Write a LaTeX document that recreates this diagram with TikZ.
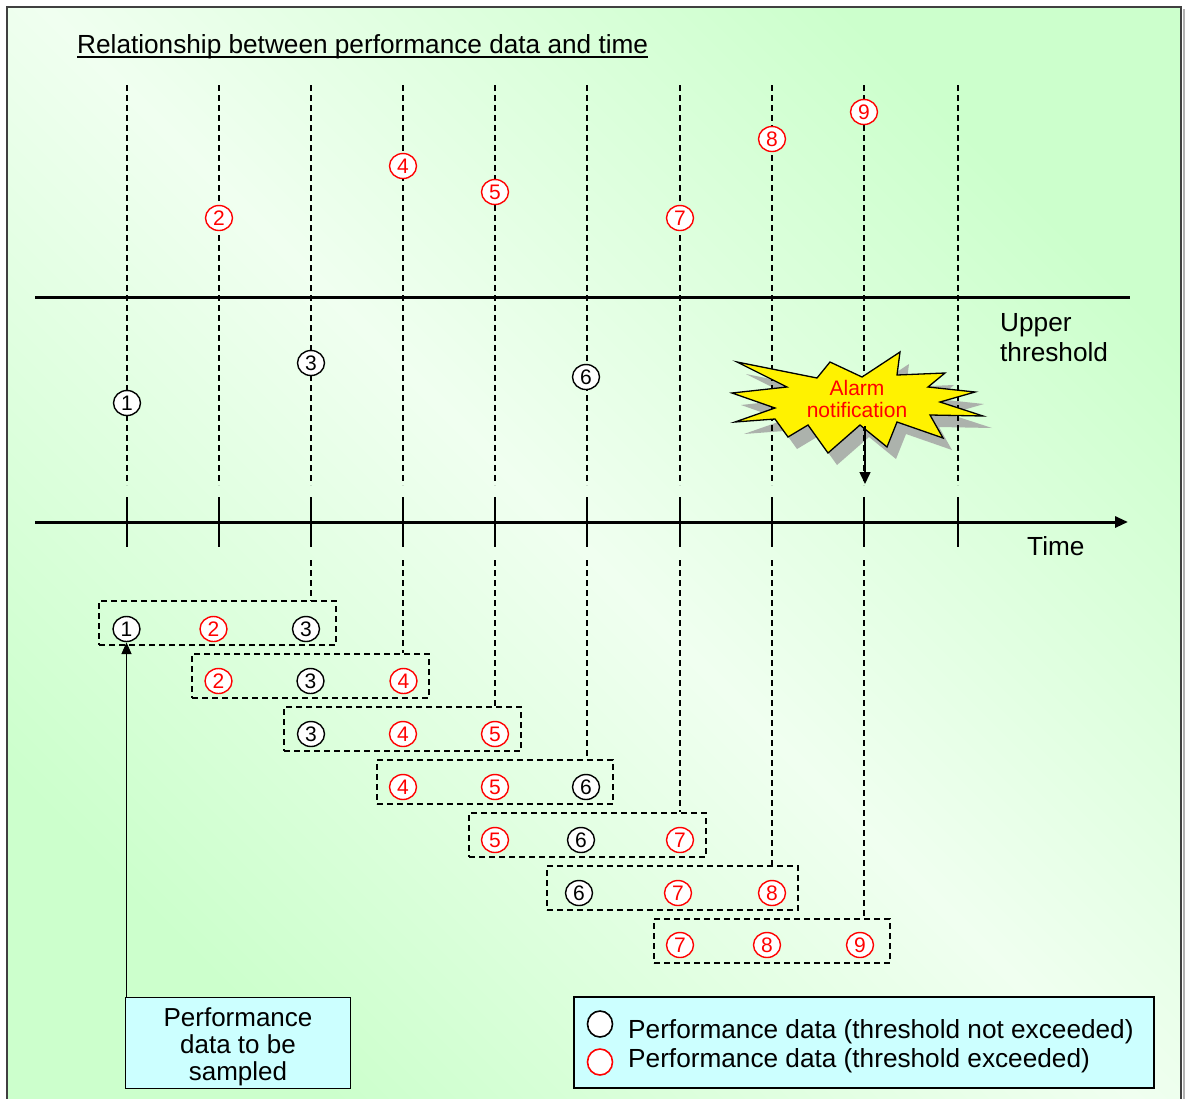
\documentclass[tikz,border=0pt]{standalone}
\usepackage{fontspec}
\setmainfont{Liberation Sans}
\usetikzlibrary{shapes.geometric,arrows.meta,calc}
\definecolor{bgG}{RGB}{204,255,204}
\definecolor{bgL}{RGB}{240,255,240}
\definecolor{boxC}{RGB}{204,255,255}
\definecolor{shadowG}{RGB}{172,178,172}
\def\burst{(737,362) -- (817,378) -- (830,362) -- (862,377) -- (900,352) -- (897,375) -- (945,373) -- (928,387) -- (975,392) -- (940,402) -- (983,416) -- (930,415) -- (943,438) -- (897,422) -- (887,447) -- (860,425) -- (828,453) -- (808,425) -- (788,437) -- (775,419) -- (735,422) -- (775,408) -- (732,393) -- (787,387) -- cycle}
\begin{document}
\begin{tikzpicture}[x=1pt,y=-1pt,
  dline/.style={dash pattern=on 6pt off 4pt, line width=1.3pt},
  dbox/.style={draw, dash pattern=on 6pt off 4pt, line width=1.3pt, rectangle, minimum height=44pt, inner sep=0pt},
  num/.style={ellipse, fill=white, line width=1.4pt, minimum width=27pt, minimum height=25pt, inner sep=0pt, font=\fontsize{21}{21}\selectfont},
  numk/.style={num, draw=black, text=black},
  numr/.style={num, draw=red, text=red},
  tickline/.style={line width=1.5pt},
  bigtext/.style={font=\fontsize{26.2}{30}\selectfont, inner sep=0pt},
  cyanbox/.style={draw, line width=1.5pt, fill=boxC, rectangle, minimum height=91pt, inner sep=0pt}
]
\useasboundingbox (0,0) rectangle (1188,1098);
\fill[white] (0,0) rectangle (1188,1098);
\shade[top color=bgG,bottom color=bgG,middle color=bgL,shading angle=-45] (7,7) rectangle (1181,1110);
\draw[line width=2pt, black!30] (1183.5,9) -- (1183.5,1110);
\draw[line width=2pt, black!75] (7,1110) -- (7,7) -- (1181,7) -- (1181,1110);

% title
\node[bigtext, anchor=base west] (title) at (77,53) {Relationship between performance data and time};
\draw[line width=1.3pt] ($(title.base west)+(0,4)$) -- ($(title.base east)+(0,4)$);

% star shadow
\begin{scope}[shift={(9,12)}]
\fill[shadowG] \burst;
\end{scope}

% vertical dashed lines and ticks
\foreach \x [count=\i] in {127,219,311,403,495,587,680,772,864,958} {
  \coordinate (top\i) at (\x,85);
  \coordinate (bot\i) at (\x,485);
  \draw[dline] (top\i) -- (bot\i);
  \coordinate (tka\i) at (\x,497);
  \coordinate (tkb\i) at (\x,547);
  \draw[tickline] (tka\i) -- (tkb\i);
  \coordinate (s\i) at (\x,560);
}

% threshold and time axis
\coordinate (thL) at (35,297);
\coordinate (thR) at (1130,297);
\draw[line width=3pt] (thL) -- (thR);
\coordinate (axL) at (35,522);
\coordinate (axR) at (1128,522);
\draw[line width=3pt, -{Triangle[length=13pt,width=11pt]}] (axL) -- (axR);

\node[bigtext, anchor=north west, align=left] (upper) at (1000,313) {Upper\\threshold};
\node[bigtext, anchor=base west] (time) at (1027,555) {Time};

% star
\filldraw[fill=yellow, draw=black, line width=1.3pt, line join=miter] \burst;
\node[text=red, align=center, font=\fontsize{21}{21.7}\selectfont, inner sep=0pt] (alarm) at (857,399) {Alarm\\notification};
\coordinate (alarmB) at (865,426);
\coordinate (alarmT) at (865,484);
\draw[line width=1.5pt, -{Triangle[length=12pt,width=11pt]}] (alarmB) -- (alarmT);

% top data points
\node[numk] (t1) at (127,403) {1};
\node[numr] (t2) at (219,218) {2};
\node[numk] (t3) at (311,363) {3};
\node[numr] (t4) at (403,166) {4};
\node[numr] (t5) at (495,192) {5};
\node[numk] (t6) at (586,377) {6};
\node[numr] (t7) at (680,218) {7};
\node[numr] (t8) at (772,139) {8};
\node[numr] (t9) at (864,112) {9};

% sampling windows
\node[dbox, minimum width=237pt] (b1) at (217.5,623) {};
\node[dbox, minimum width=237pt] (b2) at (310.5,676) {};
\node[dbox, minimum width=237pt] (b3) at (402.5,729) {};
\node[dbox, minimum width=236pt] (b4) at (495,782) {};
\node[dbox, minimum width=237pt] (b5) at (587.5,835) {};
\node[dbox, minimum width=251pt] (b6) at (672.5,888) {};
\node[dbox, minimum width=236pt] (b7) at (772,941) {};

\draw[dline] (s3) -- (s3 |- b1.north);
\draw[dline] (s4) -- (s4 |- b2.north);
\draw[dline] (s5) -- (s5 |- b3.north);
\draw[dline] (s6) -- (s6 |- b4.north);
\draw[dline] (s7) -- (s7 |- b5.north);
\draw[dline] (s8) -- (s8 |- b6.north);
\draw[dline] (s9) -- (s9 |- b7.north);

\node[numk] (p1a) at (126.5,629) {1};
\node[numr] (p1b) at (213.5,629) {2};
\node[numk] (p1c) at (306,629) {3};

\node[numr] (p2a) at (218.5,681) {2};
\node[numk] (p2b) at (310.5,681) {3};
\node[numr] (p2c) at (403.5,681) {4};

\node[numk] (p3a) at (311,734) {3};
\node[numr] (p3b) at (403,734) {4};
\node[numr] (p3c) at (495,734) {5};

\node[numr] (p4a) at (403,787) {4};
\node[numr] (p4b) at (495,787) {5};
\node[numk] (p4c) at (586,787) {6};

\node[numr] (p5a) at (495,840) {5};
\node[numk] (p5b) at (581,840) {6};
\node[numr] (p5c) at (680,840) {7};

\node[numk] (p6a) at (579,893) {6};
\node[numr] (p6b) at (678,893) {7};
\node[numr] (p6c) at (772,893) {8};

\node[numr] (p7a) at (680,945) {7};
\node[numr] (p7b) at (767,945) {8};
\node[numr] (p7c) at (860,945) {9};

% sampled data box
\node[cyanbox, minimum width=225pt] (perf) at (238,1043) {};
\node[bigtext, align=center, font=\fontsize{26}{27.3}\selectfont] (perftxt) at (238,1046.7) {Performance\\data to be\\sampled};
\draw[line width=1.6pt, -{Triangle[length=12pt,width=10pt]}] (p1a.south |- perf.north) -- (p1a.south);

% legend
\node[cyanbox, minimum width=580pt] (legend) at (864,1042.5) {};
\node[ellipse, draw=black, fill=white, line width=1.6pt, minimum width=25pt, minimum height=26pt, inner sep=0pt] (lk) at (600,1024) {};
\node[ellipse, draw=red, fill=white, line width=1.6pt, minimum width=25pt, minimum height=26pt, inner sep=0pt] (lr) at (600,1062) {};
\node[bigtext, anchor=base west] (lt1) at (628,1038) {Performance data (threshold not exceeded)};
\node[bigtext, anchor=base west] (lt2) at (628,1067) {Performance data (threshold exceeded)};
\end{tikzpicture}
\end{document}
